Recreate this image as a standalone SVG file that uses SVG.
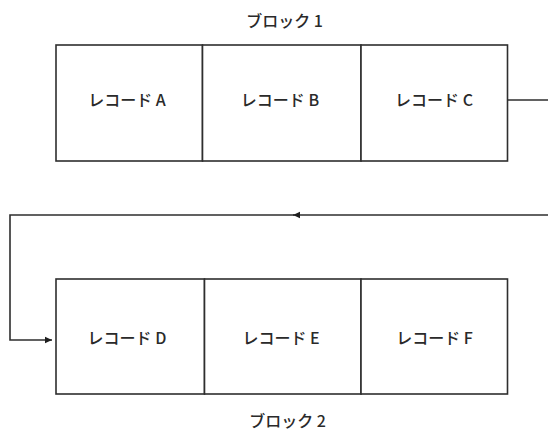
<svg xmlns="http://www.w3.org/2000/svg" width="548" height="434" viewBox="0 0 548 434">
  <style>
    .cell { fill: #ffffff; stroke: #2e2e2e; stroke-width: 1.6; }
    .label { font-family: "Noto Sans CJK JP", "Noto Sans", sans-serif; font-size: 16px; font-weight: 500; fill: #2a2a2a; text-anchor: middle; }
    .wire { fill: none; stroke: #2e2e2e; stroke-width: 1.6; }
  </style>
  <defs>
    <marker id="head" markerUnits="userSpaceOnUse" markerWidth="8" markerHeight="8" refX="7" refY="4" orient="auto">
      <path d="M0,0.8 L7,4 L0,7.2 Z" fill="#1e1e1e"/>
    </marker>
  </defs>

  <rect width="548" height="434" fill="#ffffff"/>

  <!-- block 1 -->
  <g id="block1-title"><text class="label" x="284.5" y="27">ブロック 1</text></g>
  <g id="recA"><rect class="cell" x="56" y="45" width="146.5" height="116"/><text class="label" x="127" y="106">レコード A</text></g>
  <g id="recB"><rect class="cell" x="202.5" y="45" width="158.5" height="116"/><text class="label" x="280" y="106">レコード B</text></g>
  <g id="recC"><rect class="cell" x="361" y="45" width="146.5" height="116"/><text class="label" x="434" y="106">レコード C</text></g>

  <!-- block 2 -->
  <g id="recD"><rect class="cell" x="56" y="279" width="148.5" height="115"/><text class="label" x="127" y="344">レコード D</text></g>
  <g id="recE"><rect class="cell" x="204.5" y="279" width="156.5" height="115"/><text class="label" x="281" y="344">レコード E</text></g>
  <g id="recF"><rect class="cell" x="361" y="279" width="146.5" height="115"/><text class="label" x="434.5" y="344">レコード F</text></g>
  <g id="block2-title"><text class="label" x="287.5" y="427">ブロック 2</text></g>

  <!-- links between blocks -->
  <g id="connectors">
    <path class="wire" d="M507.5,100 H548"/>
    <path class="wire" d="M548,215 H293" marker-end="url(#head)"/>
    <path class="wire" d="M294,215 H10 V340 H52" marker-end="url(#head)"/>
  </g>
</svg>
